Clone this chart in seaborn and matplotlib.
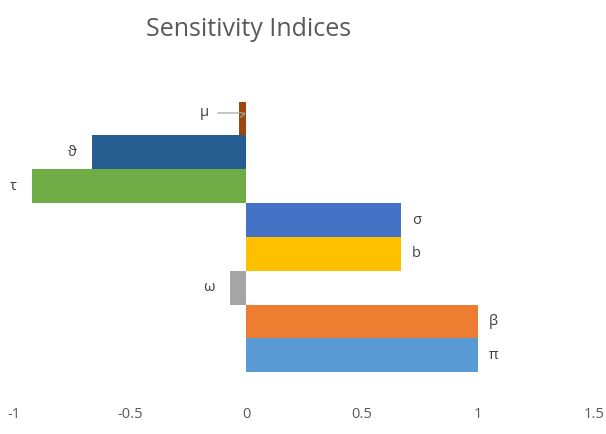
import matplotlib
matplotlib.use("Agg")
import matplotlib.pyplot as plt
import seaborn as sns
import pandas as pd

# Sensitivity index of each model parameter
params = ["μ", "ϑ", "τ", "σ", "b", "ω", "β", "π"]
indices = [-0.03, -0.664, -0.922, 0.668, 0.668, -0.069, 1.0, 1.0]
colors = ["#9E480E", "#255E91", "#70AD47", "#4472C4", "#FFC000", "#A5A5A5", "#ED7D31", "#5B9BD5"]
xticks = [-1, -0.5, 0, 0.5, 1, 1.5]
xticklabels = ["-1", "-0.5", "0", "0.5", "1", "1.5"]

sns.set_theme(style="white")
plt.rcParams["font.family"] = ["Open Sans", "DejaVu Sans"]

df = pd.DataFrame({"param": params, "index": indices})

fig = plt.figure(figsize=(6.06, 4.34), dpi=100)
ax = fig.add_axes([14 / 606, 1 - 395 / 434, 580 / 606, 335 / 434])

sns.barplot(data=df, x="index", y="param", hue="param", palette=colors,
            order=params, hue_order=params, width=1.0, orient="h",
            legend=False, saturation=1.0, ax=ax)
for p in ax.patches:
    p.set_edgecolor("none")

ax.set_xlim(-1, 1.5)
ax.set_ylim(8.17, -1.73)
ax.set_xticks(xticks)
ax.set_xticklabels(xticklabels)
ax.set_yticks([])
ax.set_xlabel("")
ax.set_ylabel("")
ax.tick_params(axis="x", length=0, pad=9, labelsize=10.5, labelcolor="#595959")
for s in ax.spines.values():
    s.set_visible(False)

# Value-side labels naming each parameter
for i, (name, val) in enumerate(zip(params, indices)):
    if i == 0:
        ax.annotate(name, xy=(val, i), xytext=(-25, 4), textcoords="offset points",
                    ha="center", va="center", fontsize=10.5, color="#404040",
                    arrowprops=dict(arrowstyle="-", color="#A6A6A6", lw=0.9,
                                    shrinkA=4, shrinkB=1.5,
                                    connectionstyle="angle,angleA=0,angleB=40,rad=2"))
        continue
    if val < 0:
        ax.annotate(name, xy=(val, i), xytext=(-11, 0), textcoords="offset points",
                    ha="right", va="center", fontsize=10.5, color="#404040")
    else:
        ax.annotate(name, xy=(val, i), xytext=(8, 0), textcoords="offset points",
                    ha="left", va="center", fontsize=10.5, color="#404040")

fig.text(249 / 606, 1 - 29 / 434, "Sensitivity Indices", ha="center", va="center",
         fontsize=18, color="#595959")

fig.savefig("out.png", dpi=100)
